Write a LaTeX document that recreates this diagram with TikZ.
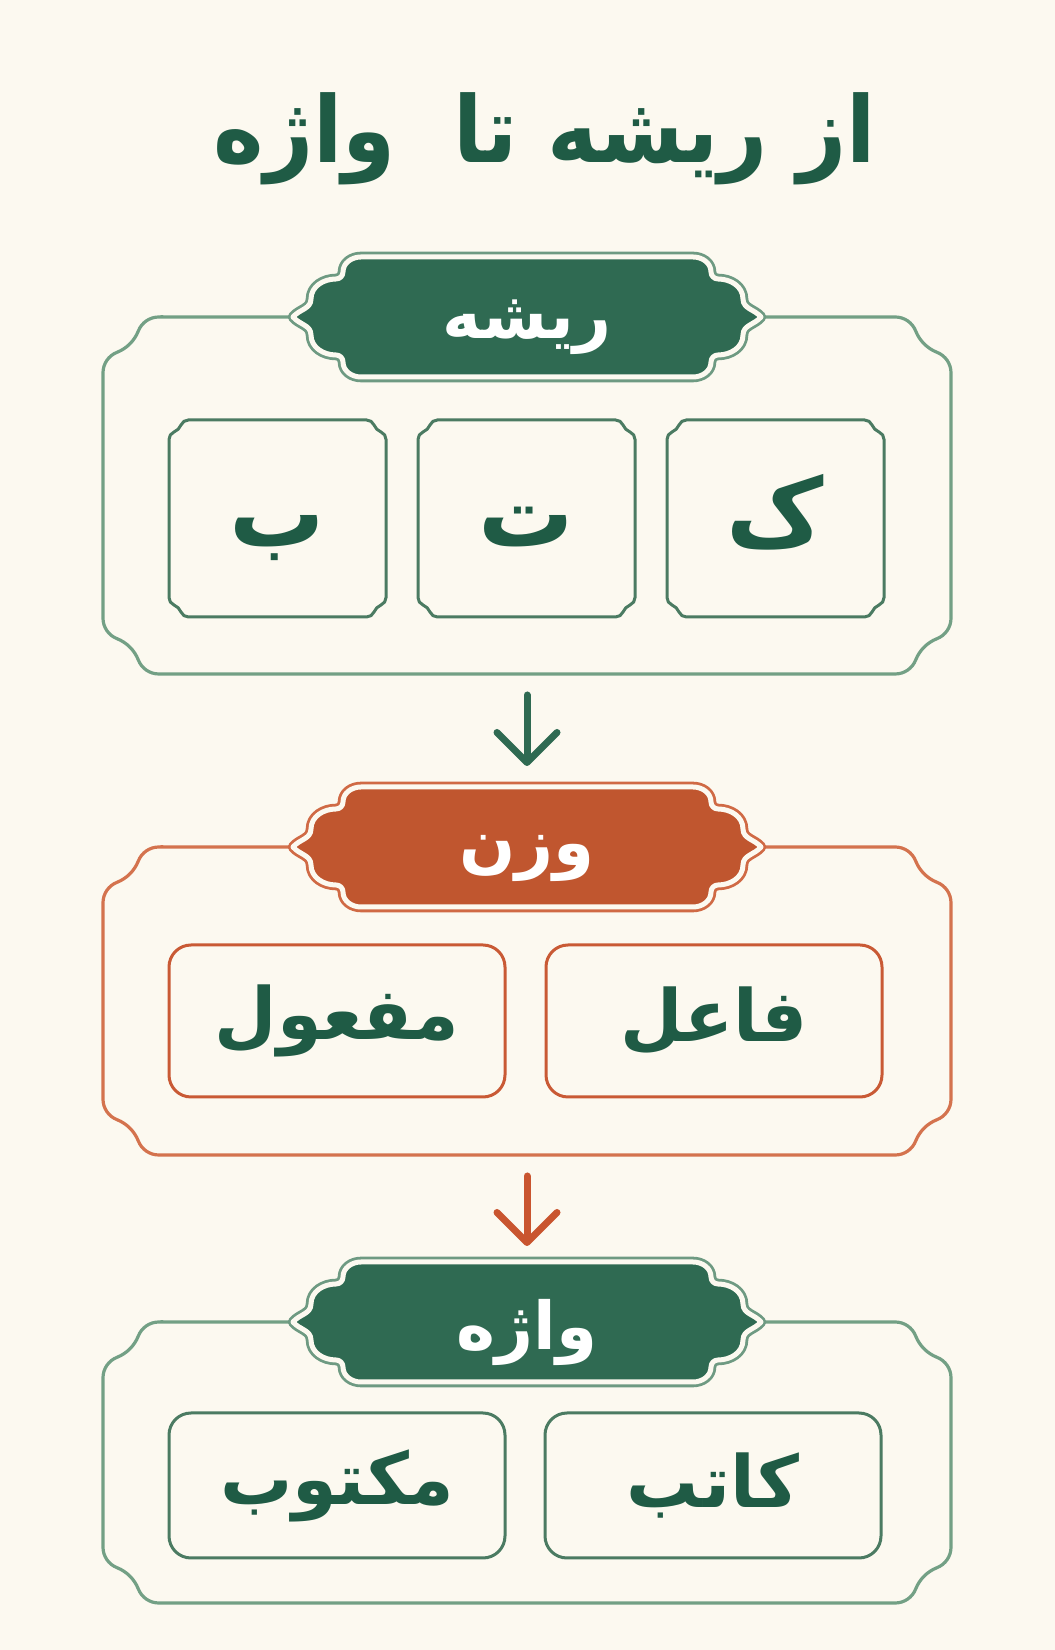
\documentclass[tikz,border=0pt]{standalone}
\usepackage{fontspec}
\newfontfamily\arabicfont[Script=Arabic]{DejaVu Sans}
\TeXXeTstate=1
\usetikzlibrary{arrows.meta}
\definecolor{bgcream}{HTML}{FCF9F0}
\definecolor{inkgreen}{HTML}{1F5B45}
\definecolor{tabfillgreen}{HTML}{2F6A52}
\definecolor{tablinegreen}{HTML}{6E9A82}
\definecolor{framegreen}{HTML}{73A085}
\definecolor{boxgreen}{HTML}{4B7B62}
\definecolor{tabfillorange}{HTML}{C0562F}
\definecolor{tablineorange}{HTML}{D06A45}
\definecolor{frameorange}{HTML}{D4734E}
\definecolor{boxorange}{HTML}{C95A35}
\definecolor{arroworange}{HTML}{C9552F}

% frame with notched corners: x0,y0,x1,y1, notch radius, fillet radius
\newcommand\ornframe[7][]{%
  \pgfmathsetmacro\ofk{sqrt((#6+#7)^2-(#7)^2)}%
  \pgfmathsetmacro\ofa{asin(#7/(#6+#7))}%
  \draw[#1] (#2+\ofk,#5) -- (#4-\ofk,#5)
    arc[start angle=90,end angle=\ofa,radius=#7pt]
    arc[start angle=180+\ofa,end angle=270-\ofa,radius=#6pt]
    arc[start angle=90-\ofa,end angle=0,radius=#7pt]
    -- (#4,#3+\ofk)
    arc[start angle=0,end angle=-90+\ofa,radius=#7pt]
    arc[start angle=90+\ofa,end angle=180-\ofa,radius=#6pt]
    arc[start angle=-\ofa,end angle=-90,radius=#7pt]
    -- (#2+\ofk,#3)
    arc[start angle=-90,end angle=-180+\ofa,radius=#7pt]
    arc[start angle=\ofa,end angle=90-\ofa,radius=#6pt]
    arc[start angle=-90-\ofa,end angle=-180,radius=#7pt]
    -- (#2,#5-\ofk)
    arc[start angle=180,end angle=90+\ofa,radius=#7pt]
    arc[start angle=-90+\ofa,end angle=-\ofa,radius=#6pt]
    arc[start angle=180-\ofa,end angle=90,radius=#7pt]
    -- cycle;}

% header cartouche: cx,cy, half width, half height
\newcommand\tabshape[5][]{%
  \path[#1] (#2-#4+68,#3+#5) -- (#2+#4-68,#3+#5)
    to[out=0,in=90] (#2+#4-50,#3+#5-15)
    to[out=-90,in=180] (#2+#4-43,#3+#5-22)
    to[out=0,in=90] (#2+#4-18,#3+18)
    to[out=-90,in=130] (#2+#4,#3)
    to[out=-130,in=90] (#2+#4-18,#3-18)
    to[out=-90,in=0] (#2+#4-43,#3-#5+22)
    to[out=180,in=90] (#2+#4-50,#3-#5+15)
    to[out=-90,in=0] (#2+#4-68,#3-#5)
    -- (#2-#4+68,#3-#5)
    to[out=180,in=270] (#2-#4+50,#3-#5+15)
    to[out=90,in=0] (#2-#4+43,#3-#5+22)
    to[out=180,in=270] (#2-#4+18,#3-18)
    to[out=90,in=310] (#2-#4,#3)
    to[out=50,in=270] (#2-#4+18,#3+18)
    to[out=90,in=180] (#2-#4+43,#3+#5-22)
    to[out=0,in=270] (#2-#4+50,#3+#5-15)
    to[out=90,in=180] (#2-#4+68,#3+#5)
    -- cycle;}

\tikzset{
  tabgreen/.style={preaction={draw=tablinegreen,line width=10.6pt,line join=round},
    fill=tabfillgreen,postaction={draw=bgcream,line width=5pt,line join=round}},
  taborange/.style={preaction={draw=tablineorange,line width=10.6pt,line join=round},
    fill=tabfillorange,postaction={draw=bgcream,line width=5pt,line join=round}},
  framelinegreen/.style={draw=framegreen,line width=3.2pt},
  framelineorange/.style={draw=frameorange,line width=3.2pt},
  letterbox/.style={draw=boxgreen,line width=3pt},
  headtxt/.style={text=white,font=\arabicfont\bfseries\fontsize{66}{78}\selectfont},
  lettertxt/.style={text=inkgreen,font=\arabicfont\bfseries\fontsize{95}{110}\selectfont},
  wordbox/.style={line width=3pt,rounded corners=22pt,minimum width=336pt,
    text=inkgreen,font=\arabicfont\bfseries\fontsize{72}{86}\selectfont},
  flowarrow/.style={line width=7pt,line cap=round,
    -{Straight Barb[length=30pt,width=60pt,round]}},
}

\begin{document}
\begin{tikzpicture}[x=1pt,y=1pt]
\useasboundingbox (0,0) rectangle (1055,1650);
\fill[bgcream] (0,0) rectangle (1055,1650);

\node[text=inkgreen,anchor=base,font=\arabicfont\bfseries\fontsize{92}{110}\selectfont]
  (title) at (545,1487) {\scalebox{0.93}[1]{\beginR از ریشه تا\hspace{30pt} واژه\endR}};

% root
\ornframe[framelinegreen]{103}{976}{951}{1333}{38}{22}
\tabshape[tabgreen]{527}{1333}{234}{60}
\node[headtxt] (roothead) at (527,1323) {\beginR ریشه\endR};
\ornframe[letterbox]{169}{1033}{386}{1230}{13}{8}
\ornframe[letterbox]{418}{1033}{635}{1230}{13}{8}
\ornframe[letterbox]{667}{1033}{884}{1230}{13}{8}
\node[lettertxt,anchor=base] (lkaf) at (775.5,1103) {\beginR ک\endR};
\node[lettertxt,anchor=base] (lte) at (526.5,1103) {\beginR ت\endR};
\node[lettertxt,anchor=base] (lbe) at (277.5,1103) {\beginR ب\endR};

% pattern
\ornframe[framelineorange]{103}{495}{951}{803}{38}{22}
\tabshape[taborange]{527}{803}{234}{60}
\node[headtxt] (patternhead) at (527,792) {\beginR وزن\endR};
\node[wordbox,draw=boxorange,minimum height=152pt] (wfaail) at (714,629) {\beginR فاعل\endR};
\node[wordbox,draw=boxorange,minimum height=152pt] (wmafuul) at (337,629) {\beginR مفعول\endR};

% word
\ornframe[framelinegreen]{103}{47}{951}{328}{38}{22}
\tabshape[tabgreen]{527}{328}{234}{60}
\node[headtxt] (wordhead) at (527,318) {\beginR واژه\endR};
\node[wordbox,draw=boxgreen,minimum height=145pt] (wkaatib) at (713,164.5) {\beginR کاتب\endR};
\node[wordbox,draw=boxgreen,minimum height=145pt] (wmaktub) at (337,164.5) {\beginR مکتوب\endR};

\coordinate (rootout) at (527,955);
\coordinate (patternin) at (527,884);
\coordinate (patternout) at (527,474);
\coordinate (wordin) at (527,404);
\draw[flowarrow,draw=tabfillgreen] (rootout) -- (patternin);
\draw[flowarrow,draw=arroworange] (patternout) -- (wordin);
\end{tikzpicture}
\end{document}
